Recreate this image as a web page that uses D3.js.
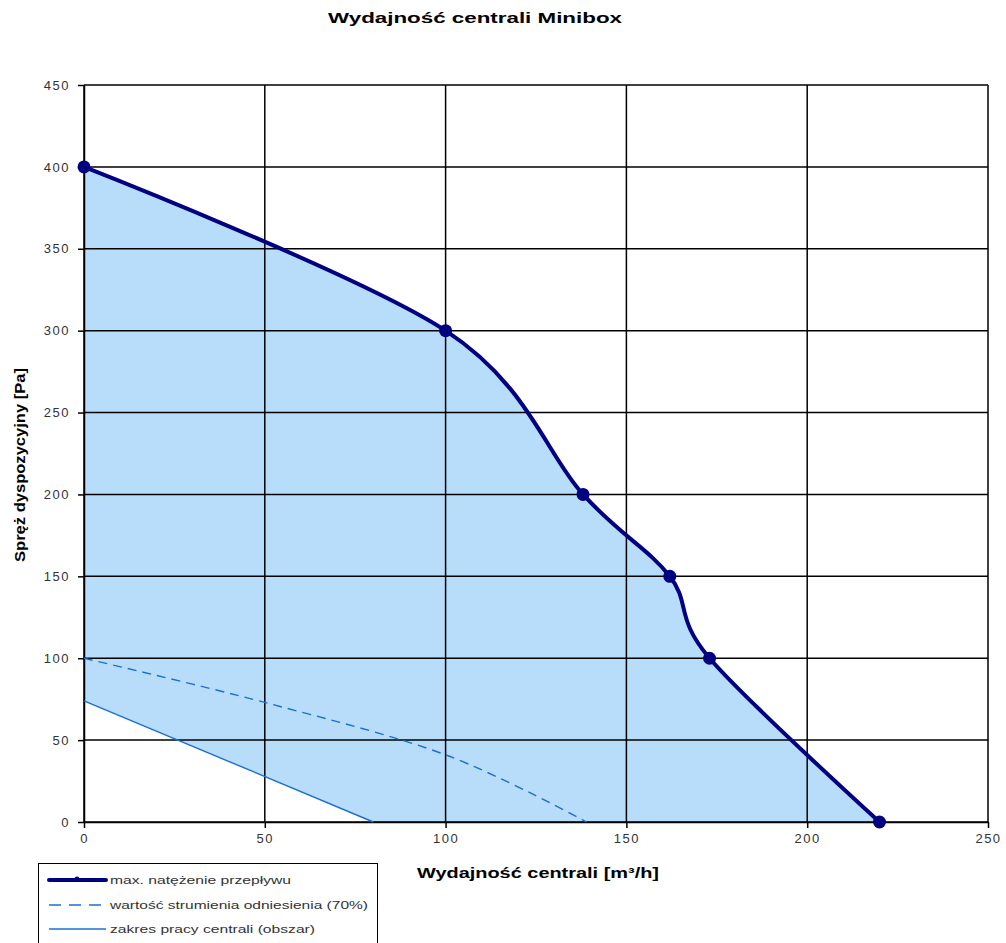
<!DOCTYPE html>
<html>
<head>
<meta charset="utf-8">
<script src="https://cdnjs.cloudflare.com/ajax/libs/d3/7.8.5/d3.min.js"></script>
<style>
  body { margin: 0; background: #fff; }
  text { font-family: "Liberation Sans", Arial, sans-serif; }
</style>
</head>
<body>
<svg id="chart" width="1006" height="943"></svg>
<script>
// values
const flowX = [0, 100, 138, 162, 173, 220];
const flowY = [400, 300, 200, 150, 100, 0];
const refX = [0, 50, 100, 139];
const refY = [100, 73, 41, 0];
const rangeX = [0, 80];
const rangeY = [74, 0];
const xTicks = [0, 50, 100, 150, 200, 250];
const yTicks = [0, 50, 100, 150, 200, 250, 300, 350, 400, 450];
const legendLabels = [
    "max. natężenie przepływu",
    "wartość strumienia odniesienia (70%)",
    "zakres pracy centrali (obszar)"
];

const navy = "#000080", blue = "#1a6fd4", fillBlue = "#b8ddfb";

let chart = d3.select("#chart");
let x = d3.scaleLinear().domain([0, 250]).range([84, 988]);
let y = d3.scaleLinear().domain([0, 450]).range([822, 85]);

let flow = flowX.map((v, i) => ({x: v, y: flowY[i]}));
let ref = refX.map((v, i) => ({x: v, y: refY[i]}));
let range = rangeX.map((v, i) => ({x: v, y: rangeY[i]}));

let curve = d3.curveCardinal.tension(0);

// working area under the max curve
chart.append("path")
    .datum(flow)
    .attr("fill", fillBlue)
    .attr("d", d3.area().curve(curve)
        .x(d => x(d.x)).y0(y(0)).y1(d => y(d.y)));

// blank triangle below the working range line
chart.append("path")
    .datum(range)
    .attr("fill", "#fff")
    .attr("d", d3.area()
        .x(d => x(d.x)).y0(y(0)).y1(d => y(d.y)));

// grid
chart.append("g")
    .selectAll("line").data(yTicks).enter().append("line")
    .attr("x1", x(0)).attr("x2", x(250))
    .attr("y1", d => y(d)).attr("y2", d => y(d))
    .attr("stroke", "#000").attr("stroke-width", 1.5);
chart.append("g")
    .selectAll("line").data(xTicks).enter().append("line")
    .attr("y1", y(0)).attr("y2", y(450))
    .attr("x1", d => x(d)).attr("x2", d => x(d))
    .attr("stroke", "#000").attr("stroke-width", 1.5);

// axes
let xAxis = d3.axisBottom(x).tickValues(xTicks).tickSize(6).tickSizeOuter(0).tickPadding(6);
let yAxis = d3.axisLeft(y).tickValues(yTicks).tickSize(6).tickSizeOuter(0).tickPadding(8);

let gx = chart.append("g").attr("transform", "translate(0," + y(0) + ")").call(xAxis);
let gy = chart.append("g").attr("transform", "translate(" + x(0) + ",0)").call(yAxis);
[gx, gy].forEach(g => {
    g.select(".domain").attr("stroke", "#000").attr("stroke-width", 1.5);
    g.selectAll(".tick line").attr("stroke", "#000").attr("stroke-width", 1.5);
    g.selectAll(".tick text")
        .attr("fill", "#333")
        .style("font-size", "13px")
        .style("letter-spacing", "1.5px")
        .style("font-family", "'Liberation Sans', Arial, sans-serif");
});

// reference and range lines
chart.append("path")
    .datum(ref)
    .attr("fill", "none")
    .attr("stroke", blue)
    .attr("stroke-width", 1.4)
    .attr("stroke-dasharray", "9,6")
    .attr("d", d3.line().curve(curve).x(d => x(d.x)).y(d => y(d.y)));

chart.append("path")
    .datum(range)
    .attr("fill", "none")
    .attr("stroke", blue)
    .attr("stroke-width", 1.4)
    .attr("d", d3.line().x(d => x(d.x)).y(d => y(d.y)));

// max flow curve
chart.append("path")
    .datum(flow)
    .attr("fill", "none")
    .attr("stroke", navy)
    .attr("stroke-width", 4)
    .attr("stroke-linejoin", "round")
    .attr("d", d3.line().curve(curve).x(d => x(d.x)).y(d => y(d.y)));

chart.selectAll("circle.pt")
    .data(flow).enter().append("circle")
    .attr("class", "pt")
    .attr("cx", d => x(d.x)).attr("cy", d => y(d.y))
    .attr("r", 6.5)
    .attr("fill", navy);

// titles
chart.append("text")
    .attr("x", 475).attr("y", 23)
    .attr("text-anchor", "middle")
    .attr("textLength", 294).attr("lengthAdjust", "spacingAndGlyphs")
    .style("font-size", "14px").style("font-weight", "bold")
    .text("Wydajność centrali Minibox");

chart.append("text")
    .attr("x", 538).attr("y", 878)
    .attr("text-anchor", "middle")
    .attr("textLength", 242).attr("lengthAdjust", "spacingAndGlyphs")
    .style("font-size", "15px").style("font-weight", "bold")
    .text("Wydajność centrali [m³/h]");

chart.append("text")
    .attr("transform", "translate(25,465) rotate(-90)")
    .attr("text-anchor", "middle")
    .attr("textLength", 194).attr("lengthAdjust", "spacingAndGlyphs")
    .style("font-size", "14px").style("font-weight", "bold")
    .text("Spręż dyspozycyjny [Pa]");

// legend
let legend = chart.append("g");
legend.append("rect")
    .attr("x", 38.5).attr("y", 863.5)
    .attr("width", 339).attr("height", 100)
    .attr("fill", "#fff").attr("stroke", "#000").attr("stroke-width", 1);

let legendY = [880, 905, 929];
let legendW = [181, 258, 205];
legendLabels.forEach((label, i) => {
    let ln = legend.append("line")
        .attr("x1", 49).attr("x2", 106)
        .attr("y1", legendY[i]).attr("y2", legendY[i]);
    if (i === 0) {
        ln.attr("stroke", navy).attr("stroke-width", 4).attr("stroke-linecap", "round");
        legend.append("circle").attr("cx", 77).attr("cy", legendY[i] - 1).attr("r", 2.5).attr("fill", navy);
    } else if (i === 1) {
        ln.attr("stroke", blue).attr("stroke-width", 1.3).attr("stroke-dasharray", "12,8");
    } else {
        ln.attr("stroke", blue).attr("stroke-width", 1.3);
    }
    legend.append("text")
        .attr("x", 110).attr("y", legendY[i] + 4)
        .attr("textLength", legendW[i]).attr("lengthAdjust", "spacingAndGlyphs")
        .attr("fill", "#333")
        .style("font-size", "11px")
        .text(label);
});
</script>
</body>
</html>
